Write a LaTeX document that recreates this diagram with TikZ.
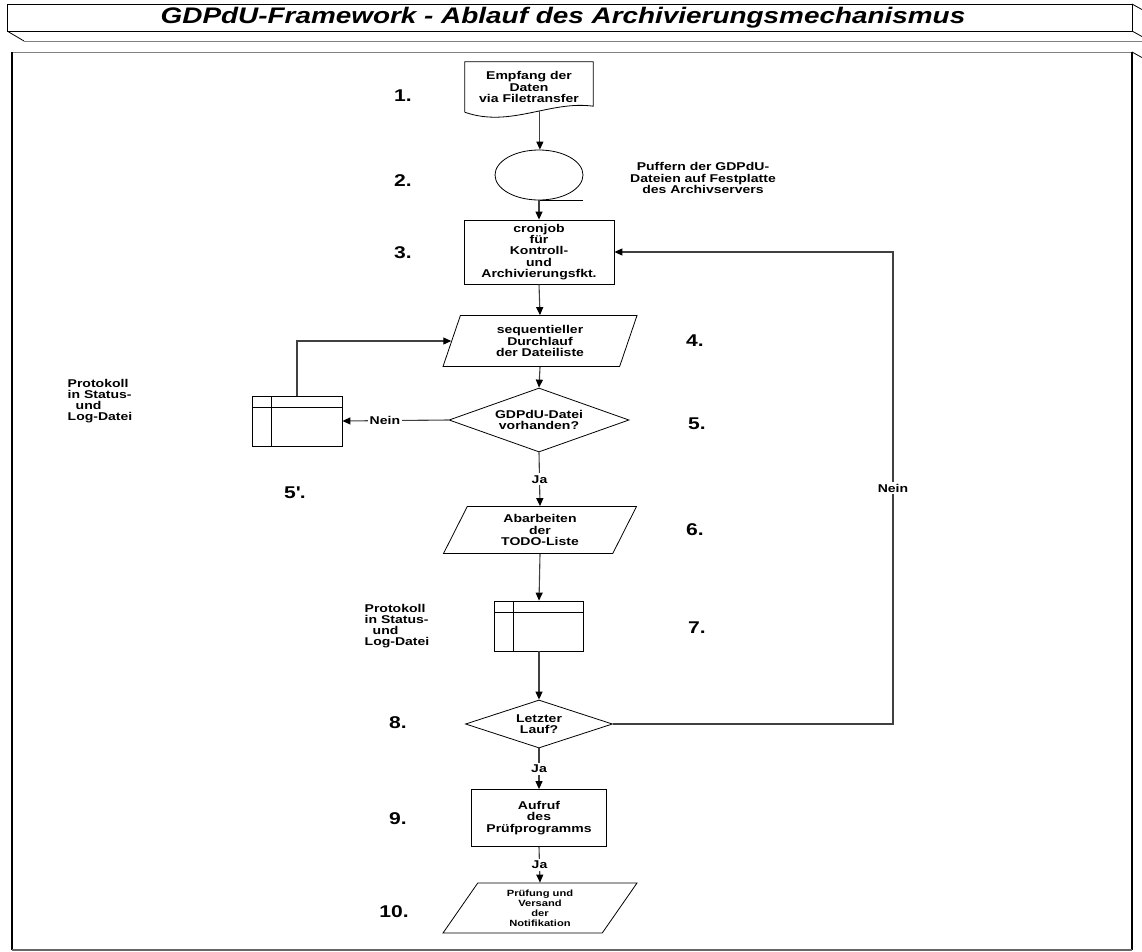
\documentclass[tikz,border=0pt]{standalone}
\usepackage{fontspec}
\setmainfont{Liberation Sans}[FakeStretch=1.24]
\usetikzlibrary{shapes.geometric,arrows.meta,positioning}

\begin{document}
\begin{tikzpicture}[x=1pt,y=-1pt,
    every node/.style={font=\bfseries\fontsize{11.3}{11.2}\selectfont},
    box/.style={draw,line width=0.8pt,minimum width=150pt,minimum height=64pt,align=center,inner sep=0.5pt},
    decide/.style={diamond,draw,line width=0.8pt,align=center,inner sep=0pt},
    para/.style={trapezium,draw,line width=0.8pt,trapezium stretches body,align=center,inner sep=1pt},
    store/.style={draw,line width=0.8pt,minimum width=90pt,minimum height=50pt,
        path picture={
            \draw[line width=0.8pt] ([xshift=19pt]path picture bounding box.north west) -- ([xshift=19pt]path picture bounding box.south west);
            \draw[line width=0.8pt] ([yshift=-11pt]path picture bounding box.north west) -- ([yshift=-11pt]path picture bounding box.north east);
        }},
    conn/.style={line width=1.1pt,draw=black!75,-{Triangle[length=8pt,width=7pt,color=black]}},
    lbl/.style={fill=white,inner sep=2pt},
    num/.style={font=\bfseries\fontsize{17}{19}\selectfont},
    note/.style={align=left}
]
\useasboundingbox (0,0) rectangle (1142,951);

% title band and frame
\draw[line width=0.8pt] (7,31) -- (7,4) -- (1132,4) -- (1132,31) -- cycle;
\draw[line width=0.8pt] (1132,4) -- (1150,14) -- (1150,41);
\draw[line width=0.8pt] (7,31) -- (24,41);
\draw[line width=0.8pt] (1132,31) -- (1150,41);
\draw[line width=1pt,black!50] (24,41) -- (1150,41);
\node[font=\bfseries\itshape\fontsize{22.5}{24}\selectfont] (title) at (563,18) {GDPdU-Framework - Ablauf des Archivierungsmechanismus};
\draw[line width=1pt,black!50] (12,52) -- (1132,52);
\draw[line width=1.2pt] (12,52) -- (12,950);
\draw[line width=1.2pt] (1132,52) -- (1132,950);
\draw[line width=0.8pt] (1132,52) -- (1150,62);
\draw[line width=1.6pt,black!60] (12,950) -- (1132,950);

% shapes
\node[align=center,minimum width=128pt,minimum height=50pt,inner sep=1pt] (doc) at (529,87) {Empfang der\\Daten\\via Filetransfer};
\draw[line width=0.8pt] (doc.south west) -- (doc.north west) -- (doc.north east) -- ([yshift=6pt]doc.south east)
    .. controls +(-43,-6) and +(45,16) .. coordinate[pos=0.42] (docout) (doc.south west);
\node[ellipse,draw,line width=0.8pt,minimum width=88pt,minimum height=50pt] (tape) at (539,175) {};
\draw[line width=0.8pt] (tape.south) -- ++(44,0);
\node[box] (cron) at (539,252) {cronjob\\für\\Kontroll-\\und\\Archivierungsfkt.};
\node[para,trapezium left angle=62,trapezium right angle=118,minimum width=194pt,minimum height=51pt] (seq) at (540,341) {sequentieller\\Durchlauf\\der Dateiliste};
\node[decide,aspect=2.8,minimum width=180pt,minimum height=64pt] (exists) at (539,420) {GDPdU-Datei\\vorhanden?};
\node[store] (log1) at (297,421) {};
\node[para,trapezium left angle=54,trapezium right angle=126,minimum width=193pt,minimum height=47pt] (todo) at (540,530) {Abarbeiten\\der\\TODO-Liste};
\node[store,minimum width=89pt] (log2) at (539,626) {};
\node[decide,aspect=3,minimum width=147pt,minimum height=48pt] (last) at (539,724) {Letzter\\Lauf?};
\node[box,minimum width=135pt,minimum height=57pt] (check) at (539,818) {Aufruf\\des\\Prüfprogramms};
\node[para,trapezium left angle=48,trapezium right angle=132,minimum width=194pt,minimum height=50pt,
      font=\bfseries\fontsize{9}{10}\selectfont] (notify) at (540,908) {Prüfung und\\Versand\\der\\Notifikation};
\coordinate (back) at (893,724);

% texts
\node[align=center] (buffer) at (703,178) {Puffern der GDPdU-\\Dateien auf Festplatte\\des Archivservers};
\node[note] (proto1) at (100,401) {Protokoll\\in Status-\\\hspace*{8pt}und\\Log-Datei};
\node[note] (proto2) at (397,626) {Protokoll\\in Status-\\\hspace*{8pt}und\\Log-Datei};
\node[num] (n1) at (403,96) {1.};
\node[num] (n2) at (403,181) {2.};
\node[num] (n3) at (403,253) {3.};
\node[num] (n4) at (695,341) {4.};
\node[num] (n5) at (697,424) {5.};
\node[num] (n5b) at (295,493) {5\textquotesingle.};
\node[num] (n6) at (695,530) {6.};
\node[num] (n7) at (697,628) {7.};
\node[num] (n8) at (398,723) {8.};
\node[num] (n9) at (398,819) {9.};
\node[num] (n10) at (394,912) {10.};

% connectors
\draw[conn] (docout) -- (docout |- tape.north);
\draw[conn] (tape.south) -- (tape.south |- cron.north);
\draw[conn] (cron.south) -- (seq.north);
\draw[conn] (seq.south) -- (exists.north);
\draw[conn] (exists.west) -- node[lbl,pos=0.6] {Nein} (log1.east);
\draw[conn] (log1.north) |- (seq.left side);
\draw[conn] (exists.south) -- node[lbl] {Ja} (todo.north);
\draw[conn] (todo.south) -- (log2.north);
\draw[conn] (log2.south) -- (last.north);
\draw[conn] (last.east) -- (back) |- node[lbl,pos=0.25] {Nein} (cron.east);
\draw[conn] (last.south) -- node[lbl] {Ja} (check.north);
\draw[conn] (check.south) -- node[lbl] {Ja} (notify.north);
\end{tikzpicture}
\end{document}
